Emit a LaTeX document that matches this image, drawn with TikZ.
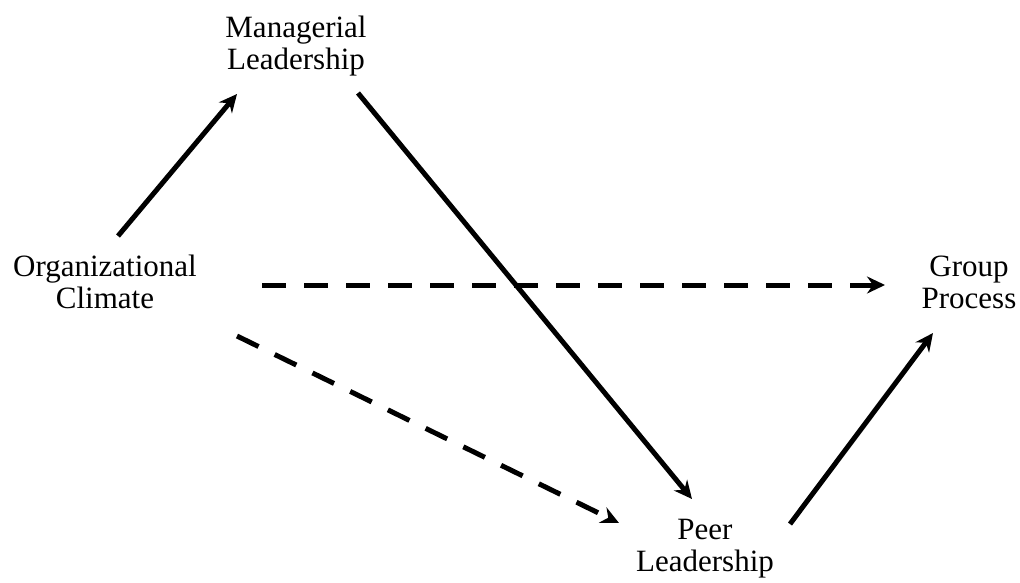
\documentclass[tikz,border=0pt]{standalone}
\usepackage{fontspec}
\setmainfont{Liberation Serif}
\usetikzlibrary{arrows.meta}

\begin{document}
\begin{tikzpicture}[x=1pt,y=1pt,yscale=-1,xscale=1,
  factor/.style={align=center,font=\fontsize{31}{32}\selectfont,inner sep=0pt},
  effect/.style={line width=5pt,-{Stealth[length=18pt,width=17pt,inset=6pt]}},
  indirect/.style={effect,dash pattern=on 24pt off 18pt}]
\useasboundingbox (0,0) rectangle (1020,582);

%Factors
\node [factor] (climate) at (105,282) {Organizational\\Climate};
\node [factor] (managerial) at (296,46) {Managerial\\Leadership};
\node [factor] (peer) at (705,549) {Peer\\Leadership};
\node [factor] (process) at (969,282) {Group\\Process};

%End points of the paths
\coordinate (climate-up) at (118,236);
\coordinate (managerial-in) at (237,94);
\coordinate (managerial-out) at (358,93);
\coordinate (peer-in) at (692,499);
\coordinate (climate-right) at (262,285);
\coordinate (process-in) at (885,285);
\coordinate (climate-down) at (237,336);
\coordinate (peer-left) at (619,523);
\coordinate (peer-out) at (790,524);
\coordinate (process-below) at (933,333);

%Solid paths
\draw [effect] (climate-up) -- (managerial-in);
\draw [effect] (managerial-out) -- (peer-in);
\draw [effect] (peer-out) -- (process-below);

%Dashed paths
\draw [indirect] (climate-right) -- (process-in);
\draw [indirect] (climate-down) -- (peer-left);

\end{tikzpicture}
\end{document}
